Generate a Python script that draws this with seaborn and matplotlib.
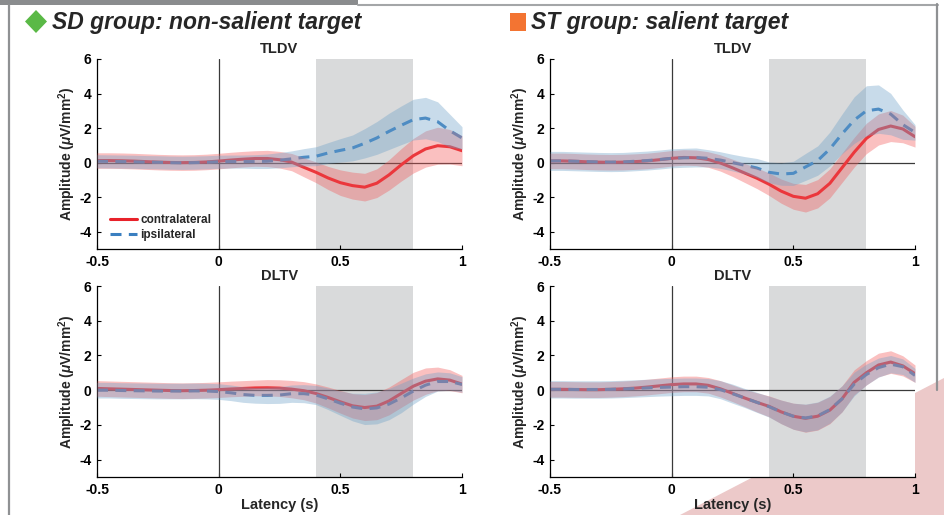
import matplotlib
matplotlib.use("Agg")
import matplotlib.pyplot as plt
from matplotlib.patches import Polygon, Rectangle
from matplotlib.lines import Line2D
import seaborn as sns

# Latency axis (s)
t = [-0.5, -0.45, -0.4, -0.35, -0.3, -0.25, -0.2, -0.15, -0.1, -0.05,
     0.0, 0.05, 0.1, 0.15, 0.2, 0.25,
     0.3, 0.35, 0.4, 0.45, 0.5, 0.55, 0.6, 0.65, 0.7, 0.75, 0.8, 0.85, 0.9, 0.95, 1.0]

# SD group, TLDV
sd_tldv_contra = [0.12, 0.12, 0.11, 0.09, 0.06, 0.03, 0.01, 0.0, 0.01, 0.04,
                  0.09, 0.15, 0.2, 0.24, 0.24, 0.17,
                  0.03, -0.27, -0.56, -0.89, -1.16, -1.33, -1.42, -1.19, -0.71, -0.13, 0.40, 0.79, 0.98, 0.92, 0.69]
sd_tldv_contra_err = [0.45, 0.45, 0.45, 0.45, 0.45, 0.45, 0.45, 0.45, 0.45, 0.45,
                      0.45, 0.45, 0.45, 0.45, 0.47, 0.48,
                      0.5, 0.55, 0.6, 0.67, 0.74, 0.78, 0.8, 0.83, 0.88, 0.94, 1.0, 1.05, 1.07, 1.0, 0.87]
sd_tldv_ipsi = [0.08, 0.07, 0.06, 0.05, 0.03, 0.02, 0.0, -0.01, 0.0, 0.02,
                0.05, 0.06, 0.06, 0.06, 0.08, 0.14,
                0.22, 0.31, 0.37, 0.56, 0.71, 0.85, 1.12, 1.43, 1.81, 2.16, 2.49, 2.58, 2.37, 1.85, 1.43]
sd_tldv_ipsi_err = [0.38, 0.38, 0.38, 0.38, 0.38, 0.38, 0.38, 0.38, 0.38, 0.38,
                    0.38, 0.38, 0.38, 0.4, 0.42, 0.44,
                    0.46, 0.5, 0.55, 0.6, 0.68, 0.75, 0.85, 0.95, 1.05, 1.12, 1.18, 1.2, 1.15, 0.95, 0.65]

# ST group, TLDV
st_tldv_contra = [0.1, 0.1, 0.08, 0.05, 0.03, 0.02, 0.03, 0.06, 0.1, 0.17,
                  0.25, 0.3, 0.28, 0.18, -0.02, -0.3,
                  -0.6, -0.9, -1.25, -1.65, -1.95, -2.06, -1.8, -1.2, -0.3, 0.6, 1.4, 1.92, 2.12, 1.95, 1.5]
st_tldv_contra_err = [0.45, 0.45, 0.45, 0.45, 0.45, 0.45, 0.45, 0.45, 0.45, 0.45,
                      0.45, 0.45, 0.45, 0.45, 0.47, 0.5,
                      0.55, 0.6, 0.65, 0.7, 0.75, 0.8, 0.82, 0.84, 0.85, 0.86, 0.88, 0.9, 0.9, 0.8, 0.6]
st_tldv_ipsi = [0.1, 0.1, 0.08, 0.06, 0.04, 0.03, 0.04, 0.08, 0.12, 0.18,
                0.25, 0.28, 0.3, 0.25, 0.15, 0.0,
                -0.15, -0.31, -0.56, -0.66, -0.62, -0.25, 0.12, 0.79, 1.66, 2.46, 3.0, 3.1, 2.81, 2.2, 1.75]
st_tldv_ipsi_err = [0.55, 0.55, 0.55, 0.55, 0.55, 0.55, 0.55, 0.55, 0.55, 0.55,
                    0.55, 0.55, 0.55, 0.5, 0.48, 0.48,
                    0.5, 0.55, 0.6, 0.65, 0.7, 0.78, 0.85, 0.98, 1.15, 1.35, 1.45, 1.4, 1.2, 0.85, 0.45]

# SD group, DLTV
sd_dltv_contra = [0.1, 0.08, 0.06, 0.04, 0.02, 0.0, -0.02, -0.03, -0.02, 0.0,
                  0.03, 0.07, 0.1, 0.13, 0.14, 0.12,
                  0.06, -0.03, -0.19, -0.42, -0.67, -0.9, -1.0, -0.92, -0.62, -0.19, 0.23, 0.52, 0.65, 0.58, 0.35]
sd_dltv_contra_err = [0.45, 0.45, 0.45, 0.45, 0.45, 0.45, 0.45, 0.45, 0.45, 0.45,
                      0.45, 0.45, 0.45, 0.45, 0.47, 0.48,
                      0.5, 0.52, 0.55, 0.6, 0.65, 0.7, 0.75, 0.78, 0.8, 0.8, 0.8, 0.76, 0.68, 0.6, 0.5]
sd_dltv_ipsi = [0.0, 0.0, -0.02, -0.03, -0.04, -0.05, -0.05, -0.05, -0.04, -0.05,
                -0.08, -0.15, -0.25, -0.3, -0.3, -0.28,
                -0.2, -0.2, -0.28, -0.5, -0.75, -0.97, -1.08, -1.02, -0.8, -0.45, -0.05, 0.29, 0.5, 0.5, 0.33]
sd_dltv_ipsi_err = [0.45, 0.45, 0.45, 0.45, 0.45, 0.45, 0.45, 0.45, 0.45, 0.45,
                    0.45, 0.45, 0.45, 0.45, 0.47, 0.48,
                    0.5, 0.52, 0.55, 0.62, 0.7, 0.8, 0.9, 0.92, 0.9, 0.85, 0.75, 0.65, 0.55, 0.5, 0.45]

# ST group, DLTV
st_dltv_contra = [0.05, 0.05, 0.04, 0.03, 0.03, 0.05, 0.08, 0.12, 0.18, 0.25,
                  0.32, 0.36, 0.36, 0.28, 0.08, -0.18,
                  -0.45, -0.7, -0.93, -1.25, -1.5, -1.62, -1.5, -1.15, -0.5, 0.45, 1.0, 1.45, 1.62, 1.4, 0.95]
st_dltv_contra_err = [0.45, 0.45, 0.45, 0.45, 0.45, 0.45, 0.45, 0.45, 0.45, 0.45,
                      0.45, 0.45, 0.45, 0.45, 0.47, 0.48,
                      0.5, 0.55, 0.6, 0.68, 0.75, 0.8, 0.8, 0.78, 0.75, 0.72, 0.7, 0.68, 0.65, 0.58, 0.5]
st_dltv_ipsi = [0.05, 0.05, 0.04, 0.04, 0.04, 0.05, 0.07, 0.1, 0.13, 0.16,
                0.18, 0.2, 0.2, 0.17, 0.03, -0.2,
                -0.45, -0.7, -0.95, -1.25, -1.5, -1.6, -1.48, -1.12, -0.5, 0.35, 0.9, 1.3, 1.5, 1.35, 0.85]
st_dltv_ipsi_err = [0.5, 0.5, 0.5, 0.5, 0.5, 0.5, 0.5, 0.5, 0.5, 0.5,
                    0.5, 0.5, 0.5, 0.5, 0.52, 0.55,
                    0.55, 0.58, 0.6, 0.68, 0.75, 0.8, 0.8, 0.78, 0.75, 0.68, 0.6, 0.55, 0.5, 0.45, 0.4]

x_ticks = [-0.5, 0, 0.5, 1]
x_tick_labels = ["-0.5", "0", "0.5", "1"]
y_ticks = [-4, -2, 0, 2, 4, 6]
y_tick_labels = ["-4", "-2", "0", "2", "4", "6"]
window = (0.4, 0.8)

sns.set_theme(style="ticks")
plt.rcParams['font.family'] = ['Liberation Sans', 'DejaVu Sans']
plt.rcParams['mathtext.fontset'] = 'custom'
plt.rcParams['mathtext.rm'] = 'Liberation Sans:bold'
plt.rcParams['mathtext.it'] = 'Liberation Sans:italic:bold'
plt.rcParams['mathtext.bf'] = 'Liberation Sans:bold'

W, H = 944, 515
fig = plt.figure(figsize=(W / 100, H / 100), dpi=100)
fig.patch.set_facecolor('white')


def fx(x):
    return x / W


def fy(y):
    return 1 - y / H


# frame decorations around the figure
fig.add_artist(Polygon([(fx(680), fy(515)), (fx(944), fy(378)), (fx(944), fy(515))],
                       closed=True, facecolor='#ecc9c9', edgecolor='none', zorder=-1,
                       transform=fig.transFigure))
fig.add_artist(Rectangle((0, fy(5)), fx(358), 5 / H, facecolor='#8a8c8e', edgecolor='none',
                         transform=fig.transFigure))
fig.add_artist(Line2D([fx(358), fx(938)], [fy(4.5), fy(4.5)], color='#a4a6a8', lw=1.5,
                      transform=fig.transFigure))
fig.add_artist(Line2D([fx(8.5), fx(8.5)], [fy(5), fy(515)], color='#8f9193', lw=1.6,
                      transform=fig.transFigure))
fig.add_artist(Line2D([fx(937), fx(937)], [fy(4), fy(390)], color='#8f9193', lw=1.6,
                      transform=fig.transFigure))

# group headers
fig.add_artist(Polygon([(fx(25), fy(21.5)), (fx(36), fy(10)), (fx(47), fy(21.5)), (fx(36), fy(33))],
                       closed=True, facecolor='#5ab946', edgecolor='none', transform=fig.transFigure))
fig.text(fx(52), fy(22), "SD group: non-salient target", fontsize=16.5, fontweight='bold',
         style='italic', va='center', ha='left')
fig.add_artist(Rectangle((fx(510), fy(30.5)), 16 / W, 17.5 / H, facecolor='#f37432',
                         edgecolor='none', transform=fig.transFigure))
fig.text(fx(531), fy(22), "ST group: salient target", fontsize=16.5, fontweight='bold',
         style='italic', va='center', ha='left')

RED = '#e8222a'
BLUE = '#3a7fc0'
RED_FILL = '#f25a5a'
BLUE_FILL = '#6fa2c8'

panels = [
    ([97, 59, 462, 249], "TLDV", sd_tldv_contra, sd_tldv_contra_err, sd_tldv_ipsi, sd_tldv_ipsi_err, True, False),
    ([550, 59, 915, 249], "TLDV", st_tldv_contra, st_tldv_contra_err, st_tldv_ipsi, st_tldv_ipsi_err, False, False),
    ([97, 286, 462, 477], "DLTV", sd_dltv_contra, sd_dltv_contra_err, sd_dltv_ipsi, sd_dltv_ipsi_err, False, True),
    ([550, 286, 915, 477], "DLTV", st_dltv_contra, st_dltv_contra_err, st_dltv_ipsi, st_dltv_ipsi_err, False, True),
]

for box, title, c, ce, ip, ie, show_legend, show_xlabel in panels:
    x0, y0, x1, y1 = box
    ax = fig.add_axes([fx(x0), fy(y1), (x1 - x0) / W, (y1 - y0) / H])
    ax.set_facecolor('white')
    ax.axvspan(*window, color='#d9dadb', lw=0, zorder=0.5)
    ax.axhline(0, color='#3a3a3a', lw=0.9, zorder=1)
    ax.axvline(0, color='#3a3a3a', lw=0.9, zorder=1)

    sns.lineplot(x=t, y=c, color=RED, lw=2.2, ax=ax, zorder=2, label="contralateral",
                 solid_joinstyle='round')
    sns.lineplot(x=t, y=ip, color=BLUE, lw=2.2, ax=ax, zorder=2, label="ipsilateral",
                 dash_joinstyle='round')
    ax.lines[-1].set_dashes([3.6, 2.4])

    ax.fill_between(t, [m - e for m, e in zip(c, ce)], [m + e for m, e in zip(c, ce)],
                    color=RED_FILL, alpha=0.38, lw=0, zorder=3)
    ax.fill_between(t, [m - e for m, e in zip(ip, ie)], [m + e for m, e in zip(ip, ie)],
                    color=BLUE_FILL, alpha=0.38, lw=0, zorder=3)

    ax.set_xlim(-0.5, 1)
    ax.set_ylim(-5, 6)
    ax.set_xticks(x_ticks)
    ax.set_xticklabels(x_tick_labels)
    ax.set_yticks(y_ticks)
    ax.set_yticklabels(y_tick_labels)
    ax.tick_params(direction='in', length=3, width=0.8, labelsize=10, pad=4, colors='black')
    for lbl in ax.get_xticklabels() + ax.get_yticklabels():
        lbl.set_fontweight('bold')
    sns.despine(ax=ax)
    for s in ('left', 'bottom'):
        ax.spines[s].set_color('black')
        ax.spines[s].set_linewidth(0.9)

    ax.set_title(title, fontsize=10.5, fontweight='bold', pad=4)
    ax.set_ylabel(r'Amplitude ($\mu$V/mm$^2$)', fontsize=10, fontweight='bold', labelpad=1)
    if show_xlabel:
        ax.set_xlabel("Latency (s)", fontsize=10.5, fontweight='bold', labelpad=1)
    else:
        ax.set_xlabel("")

    leg = ax.get_legend()
    if leg is not None:
        leg.remove()
    if show_legend:
        ax.legend(handles=ax.lines[2:4], loc='lower left', bbox_to_anchor=(0.028, 0.03),
                  frameon=False, handlelength=2.3, handletextpad=0.3,
                  labelspacing=0.25, borderpad=0.2, borderaxespad=0,
                  prop={'weight': 'bold', 'size': 8.5})

fig.savefig("out.png", dpi=100, facecolor='white')
